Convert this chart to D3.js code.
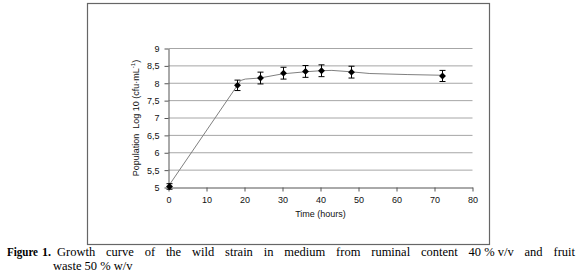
<!DOCTYPE html>
<html><head><meta charset="utf-8">
<script src="https://cdn.jsdelivr.net/npm/d3@7"></script>
<style>body{margin:0;background:#fff}</style></head><body>
<svg id="c" width="578" height="278"></svg>
<script>
const hours=[0,18,24,30,36,40,48,72];
const population=[5.03,7.94,8.15,8.29,8.34,8.36,8.32,8.21];
const errors=[0.08,0.15,0.17,0.17,0.17,0.17,0.17,0.16];
const fitHours=[0,19,20.2,24,30,36,40,43,48,53,63,72];
const fitValues=[5.04,8.08,8.12,8.15,8.27,8.33,8.36,8.37,8.33,8.28,8.25,8.23];
const xTicks=[0,10,20,30,40,50,60,70,80];
const yTicks=[5,5.5,6,6.5,7,7.5,8,8.5,9];
const captionWords=["Growth","curve","of","the","wild","strain","in","medium","from","ruminal","content","40\u00a0%\u00a0v/v","and","fruit"];

const svg=d3.select("#c");
const x=d3.scaleLinear().domain([0,80]).range([168.5,472.5]);
const y=d3.scaleLinear().domain([5,9]).range([187.5,48.5]);
const fmt=d=>String(d).replace(".",",");

svg.append("rect").attr("x",87.5).attr("y",3.5).attr("width",402).attr("height",241)
  .attr("fill","none").attr("stroke","#666").attr("stroke-width",1.2);

// gridlines
svg.append("g").selectAll("line").data(yTicks.filter(d=>d>5)).join("line")
  .attr("x1",x(0)).attr("x2",x(80)).attr("y1",d=>y(d)).attr("y2",d=>y(d))
  .attr("stroke","#a6a6a6").attr("stroke-width",1);

const gy=svg.append("g").attr("transform",`translate(${x(0)},0)`)
  .call(d3.axisLeft(y).tickValues(yTicks).tickFormat(fmt).tickSize(4).tickPadding(5).tickSizeOuter(0));
const gx=svg.append("g").attr("transform",`translate(0,${y(5)})`)
  .call(d3.axisBottom(x).tickValues(xTicks).tickFormat(fmt).tickSize(4).tickPadding(5).tickSizeOuter(0));
[gy,gx].forEach(g=>{
  g.selectAll("path,line").attr("stroke","#555");
  g.selectAll("text").attr("font-family","Liberation Sans, Arial, sans-serif").attr("font-size",9).attr("fill","#111");
});

// fit line
svg.append("path").datum(fitHours.map((h,i)=>[h,fitValues[i]]))
  .attr("d",d3.line().x(d=>x(d[0])).y(d=>y(d[1])))
  .attr("fill","none").attr("stroke","#808080").attr("stroke-width",1);

// error bars
const eb=svg.append("g").attr("stroke","#000").attr("stroke-width",1);
hours.forEach((h,i)=>{
  const cx=Math.round(x(h))+0.5, y1=y(population[i]+errors[i]), y2=y(population[i]-errors[i]);
  eb.append("line").attr("x1",cx).attr("x2",cx).attr("y1",y1).attr("y2",y2);
  eb.append("line").attr("x1",cx-3).attr("x2",cx+3).attr("y1",y1).attr("y2",y1);
  eb.append("line").attr("x1",cx-3).attr("x2",cx+3).attr("y1",y2).attr("y2",y2);
});
// markers
svg.append("g").selectAll("path").data(hours).join("path")
  .attr("transform",(h,i)=>`translate(${Math.round(x(h))+0.5},${y(population[i])})`)
  .attr("d",d3.symbol(d3.symbolDiamond2,30)).attr("fill","#000");

// axis titles
const yl=svg.append("text").attr("transform",`translate(139,${(y(5)+y(9))/2}) rotate(-90)`)
  .attr("text-anchor","middle").attr("font-family","Liberation Sans, Arial, sans-serif")
  .attr("font-size",9).attr("fill","#111");
yl.append("tspan").text("Population\u00a0 Log 10 (cfu·mL");
yl.append("tspan").attr("font-size",6).attr("dy",-4).text("-1");
yl.append("tspan").attr("dy",4).text(")");
svg.append("text").attr("x",(x(0)+x(80))/2).attr("y",217).attr("text-anchor","middle")
  .attr("font-family","Liberation Sans, Arial, sans-serif").attr("font-size",9).attr("fill","#111")
  .text("Time (hours)");

// caption
const cap=svg.append("g").attr("font-family","Liberation Serif, Times New Roman, serif").attr("font-size",12.5).attr("fill","#000");
cap.append("text").attr("x",7).attr("y",255.5).attr("font-weight","bold").attr("font-size",12)
  .attr("textLength",31).attr("lengthAdjust","spacingAndGlyphs").text("Figure");
cap.append("text").attr("x",42).attr("y",255.5).attr("font-weight","bold").attr("font-size",12).text("1.");
const left=57, right=575;
const nodes=captionWords.map(w=>cap.append("text").attr("y",255.5).text(w));
const widths=nodes.map(n=>n.node().getComputedTextLength());
const gap=(right-left-d3.sum(widths))/(captionWords.length-1);
let cx=left;
nodes.forEach((n,i)=>{n.attr("x",cx); cx+=widths[i]+gap;});
cap.append("text").attr("x",53).attr("y",269.5).text("waste 50\u00a0% w/v");
</script></body></html>
